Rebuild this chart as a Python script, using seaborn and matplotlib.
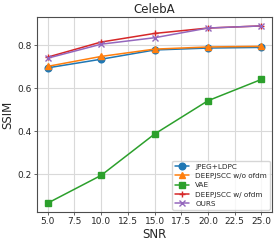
import matplotlib
matplotlib.use('Agg')
import matplotlib.pyplot as plt
import seaborn as sns

snr = [5.0, 10.0, 15.0, 20.0, 25.0]
jpeg_ldpc = [0.695, 0.735, 0.778, 0.787, 0.790]
deepjscc_wo = [0.702, 0.748, 0.782, 0.792, 0.795]
vae = [0.066, 0.195, 0.387, 0.542, 0.641]
deepjscc_w = [0.745, 0.815, 0.855, 0.880, 0.890]
ours = [0.740, 0.805, 0.835, 0.880, 0.890]

series = ['JPEG+LDPC', 'DEEPJSCC w/o ofdm', 'VAE', 'DEEPJSCC w/ ofdm', 'OURS']
values = [jpeg_ldpc, deepjscc_wo, vae, deepjscc_w, ours]
markers = ['o', '^', 's', '+', 'x']

sns.set_style('whitegrid', {'axes.edgecolor': '0.3', 'grid.color': '0.85',
                            'xtick.bottom': True, 'ytick.left': True})
plt.rcParams['font.family'] = ['DejaVu Sans']
colors = sns.color_palette('tab10', 5)

fig, ax = plt.subplots(figsize=(2.77, 2.4), dpi=100)
for name, vals, m, c in zip(series, values, markers, colors):
    sns.lineplot(x=snr, y=vals, label=name, marker=m, color=c, ax=ax,
                 markersize=4.8, linewidth=1.1, markeredgewidth=1,
                 markeredgecolor=c)
ax.set_title('CelebA', fontsize=8.5, pad=3)
ax.set_xlabel('SNR', fontsize=8.5, labelpad=1)
ax.set_ylabel('SSIM', fontsize=8.5, labelpad=2)
ax.set_xticks([5, 7.5, 10, 12.5, 15, 17.5, 20, 22.5, 25])
ax.set_xticklabels(['5.0', '7.5', '10.0', '12.5', '15.0', '17.5', '20.0', '22.5', '25.0'])
ax.set_yticks([0.2, 0.4, 0.6, 0.8])
ax.tick_params(labelsize=6.5, pad=1.5, length=2.5, width=0.6, color='0.3')
ax.legend(loc='lower right', fontsize=5.2, title=None, frameon=True,
          borderaxespad=0.3, handlelength=2.0, labelspacing=0.45)
for sp in ax.spines.values():
    sp.set_linewidth(0.8)
fig.subplots_adjust(left=0.134, right=0.982, top=0.929, bottom=0.117)
fig.savefig('out.png', dpi=100)
